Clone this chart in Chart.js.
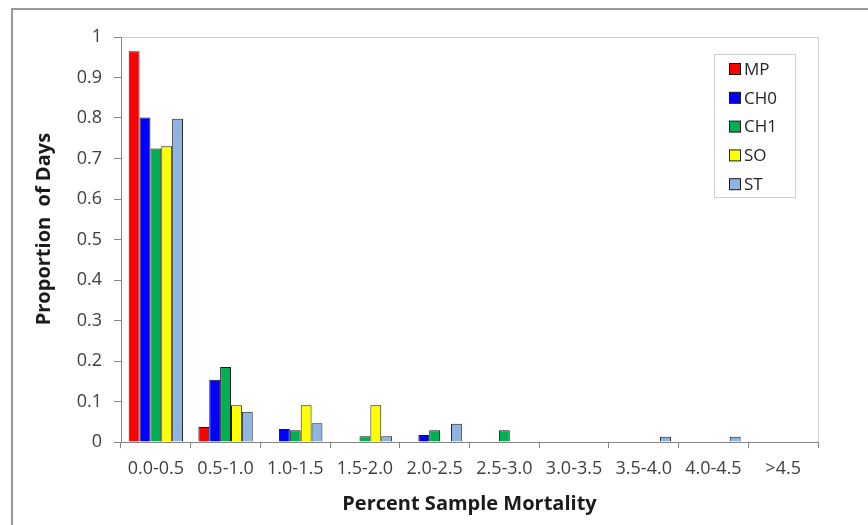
<!DOCTYPE html>
<html>
<head>
<meta charset="utf-8">
<script src="https://cdn.jsdelivr.net/npm/chart.js@4.4.1/dist/chart.umd.min.js"></script>
<style>
  body { margin: 0; background: #fff; }
  #wrap { width: 868px; height: 525px; }
</style>
</head>
<body>
<div id="wrap"><canvas id="mortality-chart" width="868" height="525"></canvas></div>
<script>
const categories = ['0.0-0.5', '0.5-1.0', '1.0-1.5', '1.5-2.0', '2.0-2.5', '2.5-3.0', '3.0-3.5', '3.5-4.0', '4.0-4.5', '>4.5']

const mp  = [0.965, 0.037, 0, 0, 0, 0, 0, 0, 0, 0]
const ch0 = [0.801, 0.154, 0.032, 0, 0.017, 0, 0, 0, 0, 0]
const ch1 = [0.725, 0.185, 0.029, 0.014, 0.029, 0.029, 0, 0, 0, 0]
const so  = [0.730, 0.091, 0.091, 0.091, 0, 0, 0, 0, 0, 0]
const st  = [0.798, 0.075, 0.046, 0.014, 0.045, 0, 0, 0.013, 0.013, 0]

const seriesNames = ['MP', 'CH0', 'CH1', 'SO', 'ST']
const seriesColors = ['#ff0000', '#0000ff', '#00b050', '#ffff00', '#8db4e2']

const fontFamily = '"Open Sans", Lato, sans-serif'
const axisGrey = '#868686'

// frame round the whole chart and the light border on top/right of the plot
const framePlugin = {
    id: 'frame',
    beforeDraw(chart) {
        const {ctx, chartArea} = chart
        ctx.save()
        ctx.strokeStyle = '#999999'
        ctx.lineWidth = 2
        ctx.strokeRect(12, 9, 900, 600)
        ctx.strokeStyle = '#d0d0d0'
        ctx.lineWidth = 1
        ctx.beginPath()
        ctx.moveTo(chartArea.left, Math.round(chartArea.top) + 0.5)
        ctx.lineTo(Math.round(chartArea.right) + 0.5, Math.round(chartArea.top) + 0.5)
        ctx.lineTo(Math.round(chartArea.right) + 0.5, chartArea.bottom)
        ctx.stroke()
        ctx.restore()
    }
}

// legend box inside the plot, top right
const boxLegend = {
    id: 'boxLegend',
    afterDraw(chart) {
        const {ctx} = chart
        const x = 714, y = 54, w = 81, h = 143
        ctx.save()
        ctx.strokeStyle = '#d0d0d0'
        ctx.lineWidth = 1
        ctx.strokeRect(x + 0.5, y + 0.5, w, h)
        ctx.font = '17px ' + fontFamily
        ctx.textBaseline = 'middle'
        chart.data.datasets.forEach((ds, i) => {
            const cy = 69 + i * 28.8
            ctx.fillStyle = ds.backgroundColor
            ctx.fillRect(729.5, cy - 5.5, 11, 11)
            ctx.strokeStyle = '#1a1a1a'
            ctx.strokeRect(729.5, cy - 5.5, 11, 11)
            ctx.fillStyle = '#262626'
            ctx.fillText(ds.label, 744, cy + 1)
        })
        ctx.restore()
    }
}

const seriesData = [mp, ch0, ch1, so, st]

new Chart(document.getElementById('mortality-chart'), {
    type: 'bar',
    data: {
        labels: categories,
        datasets: seriesNames.map((name, i) => ({
            label: name,
            data: seriesData[i],
            backgroundColor: seriesColors[i],
            borderColor: '#1a1a1a',
            borderWidth: 1,
            borderSkipped: 'bottom',
            categoryPercentage: 0.78,
            barPercentage: 1.0
        }))
    },
    options: {
        responsive: false,
        animation: false,
        layout: { padding: { left: 0, top: 37, right: 50, bottom: 0 } },
        plugins: {
            legend: { display: false },
            tooltip: { enabled: false }
        },
        scales: {
            x: {
                grid: { drawOnChartArea: false, drawTicks: true, tickLength: 6, color: axisGrey, offset: true },
                border: { color: axisGrey, width: 1 },
                ticks: { font: { family: fontFamily, size: 18 }, color: '#404040', padding: 10, maxRotation: 0, autoSkip: false },
                title: {
                    display: true,
                    text: 'Percent Sample Mortality',
                    font: { family: fontFamily, size: 20, weight: 'bold' },
                    color: '#1a1a1a',
                    padding: { top: 0, bottom: 9 }
                },
                afterFit: scale => { scale.height = 83 }
            },
            y: {
                min: 0,
                max: 1,
                grid: { drawOnChartArea: false, drawTicks: true, tickLength: 7, color: axisGrey },
                border: { color: axisGrey, width: 1 },
                ticks: {
                    stepSize: 0.1,
                    font: { family: fontFamily, size: 18 },
                    color: '#404040',
                    padding: 12,
                    callback: v => String(+v.toFixed(1))
                },
                title: {
                    display: true,
                    // leading spaces lift the centred title a little, as in the original
                    text: '    Proportion  of Days',
                    font: { family: fontFamily, size: 20, weight: 'bold' },
                    color: '#1a1a1a',
                    padding: { top: 32, bottom: 0 }
                },
                afterFit: scale => { scale.width = 121 }
            }
        }
    },
    plugins: [framePlugin, boxLegend]
})
</script>
</body>
</html>
